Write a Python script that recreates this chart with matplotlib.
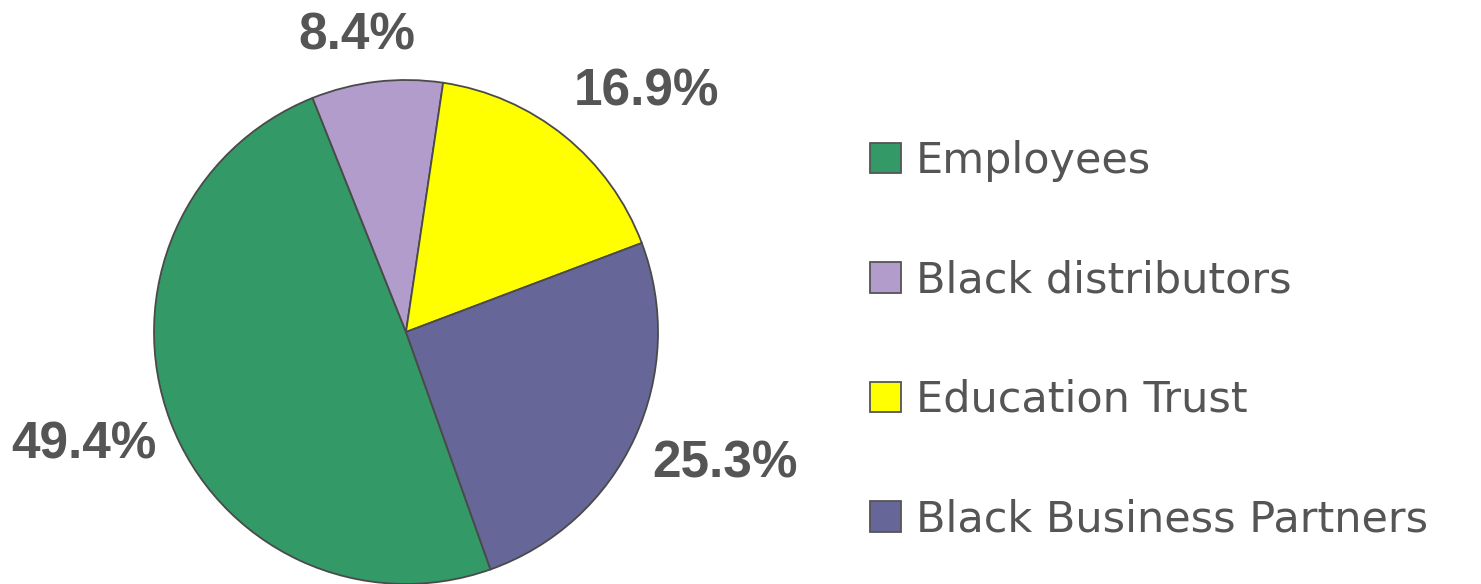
import matplotlib
matplotlib.use("Agg")
import matplotlib.pyplot as plt
import numpy as np

categories = ["Employees", "Black distributors", "Education Trust", "Black Business Partners"]
values = [49.4, 8.4, 16.9, 25.3]
pct_labels = ["49.4%", "8.4%", "16.9%", "25.3%"]
colors = ["#339966", "#b19ccb", "#ffff00", "#666699"]

plt.rcParams['font.family'] = ['Liberation Sans', 'DejaVu Sans']

W, H = 1481, 584
fig = plt.figure(figsize=(W / 100, H / 100), dpi=100)
cx, cy, r = 406, 332, 252
ax = fig.add_axes([(cx - r) / W, (H - cy - r) / H, 2 * r / W, 2 * r / H])
wedges, _ = ax.pie(values, colors=colors, startangle=-70.4, counterclock=False,
                   radius=1.0,
                   wedgeprops=dict(edgecolor="#4a4a4a", linewidth=1.3))
ax.set_xlim(-1, 1)
ax.set_ylim(-1, 1)
ax.set_aspect('equal')
ax.axis('off')

# label distances (in radius units) per wedge, angle offsets from wedge mid
label_r = [1.355, 1.19, 1.35, 1.37]
label_off = [-1.3, 2.8, -6.2, 2.4]
for w, lab, lr, off in zip(wedges, pct_labels, label_r, label_off):
    mid = np.deg2rad((w.theta1 + w.theta2) / 2 + off)
    ax.text(lr * np.cos(mid), lr * np.sin(mid), lab, ha='center', va='center',
            fontsize=37, fontweight='bold', color='#555555', clip_on=False)

leg = fig.legend(wedges, categories, loc='upper left',
                 bbox_to_anchor=(870 / W, 1 - 140 / H),
                 frameon=False, prop=dict(family='DejaVu Sans', size=31),
                 handlelength=0.72, handleheight=0.72,
                 handletextpad=0.35, labelspacing=1.8, borderpad=0, borderaxespad=0)
for t in leg.get_texts():
    t.set_color('#555555')
for h in leg.legend_handles:
    h.set_edgecolor('#555555')
    h.set_linewidth(1.3)

fig.savefig("out.png", dpi=100)
